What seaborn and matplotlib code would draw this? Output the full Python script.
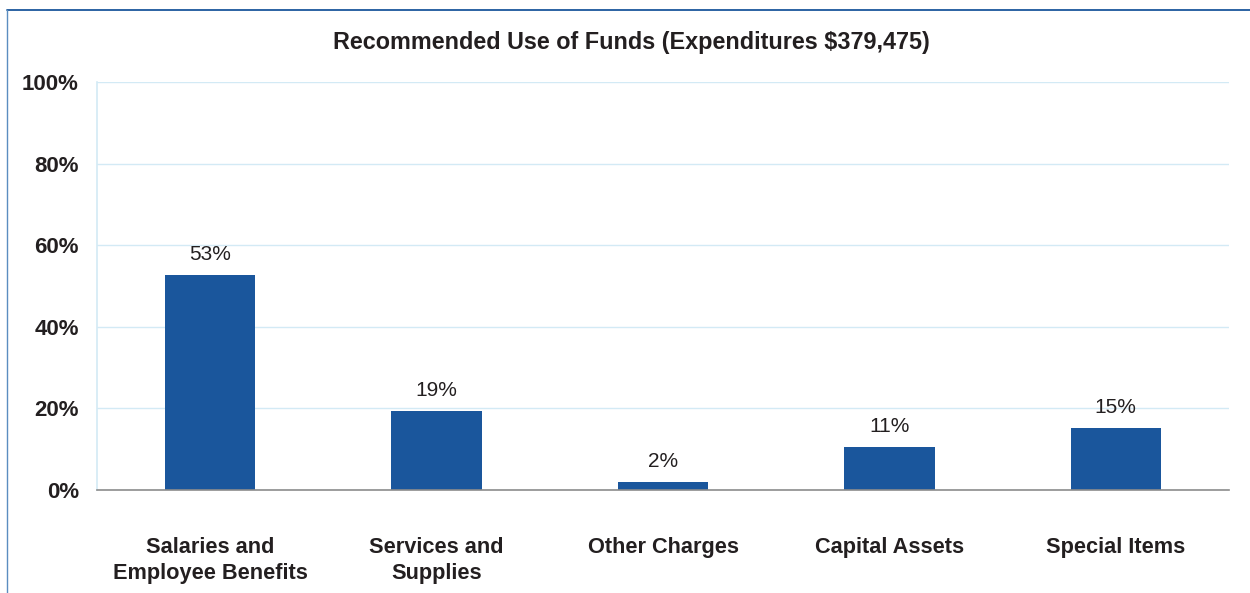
import matplotlib
matplotlib.use("Agg")
import matplotlib.pyplot as plt
import seaborn as sns
import pandas as pd
from matplotlib.lines import Line2D

categories = ["Salaries and\nEmployee Benefits", "Services and\nSupplies", "Other Charges",
              "Capital Assets", "Special Items"]
values = [52.7, 19.4, 2.0, 10.5, 15.2]
labels = ["53%", "19%", "2%", "11%", "15%"]
yticks = [0, 20, 40, 60, 80, 100]
ytick_labels = ["0%", "20%", "40%", "60%", "80%", "100%"]
title = "Recommended Use of Funds (Expenditures $379,475)"

sns.set_theme(style="white")
plt.rcParams["font.family"] = ["Liberation Sans", "DejaVu Sans"]

df = pd.DataFrame({"cat": categories, "val": values})

fig = plt.figure(figsize=(12.5, 5.93), dpi=100)
ax = fig.add_axes([97/1250, 1 - 490/593, (1229-97)/1250, (490-82)/593])

sns.barplot(data=df, x="cat", y="val", color="#1A569C", saturation=1, width=0.4, ax=ax)
for p in ax.patches:
    p.set_edgecolor("none")

ax.set_xlim(-0.5, 4.5)
ax.set_ylim(0, 100)
ax.set_yticks(yticks)
ax.set_yticklabels(ytick_labels, fontsize=16, fontweight="bold", color="#231F20")
ax.tick_params(axis="y", length=0, pad=13)
ax.tick_params(axis="x", length=0, pad=34)
ax.set_xticks(range(len(categories)))
ax.set_xticklabels(categories, fontsize=15.7, fontweight="bold", color="#231F20", linespacing=1.3)
ax.set_xlabel("")
ax.set_ylabel("")
ax.grid(axis="y", color="#D3EAF5", linewidth=1)
ax.set_axisbelow(True)
for s in ["top", "right"]:
    ax.spines[s].set_visible(False)
ax.spines["left"].set_color("#D3EAF5")
ax.spines["left"].set_linewidth(1.2)
ax.spines["bottom"].set_color("#8C8C8C")
ax.spines["bottom"].set_linewidth(1.2)

for i, (v, lab) in enumerate(zip(values, labels)):
    ax.annotate(lab, (i, v), xytext=(0, 8), textcoords="offset points",
                ha="center", va="bottom", fontsize=15, color="#231F20")

fig.text(631/1250, 1 - 43/593, title, ha="center", va="center",
         fontsize=16.8, fontweight="bold", color="#231F20")

# frame
fig.add_artist(Line2D([7/1250, 1], [1 - 10/593, 1 - 10/593], color="#1A569C", linewidth=1.3,
                      transform=fig.transFigure))
fig.add_artist(Line2D([7/1250, 7/1250], [0, 1 - 10/593], color="#5B8DC0", linewidth=1.0,
                      transform=fig.transFigure))

fig.savefig("out.png", dpi=100)
